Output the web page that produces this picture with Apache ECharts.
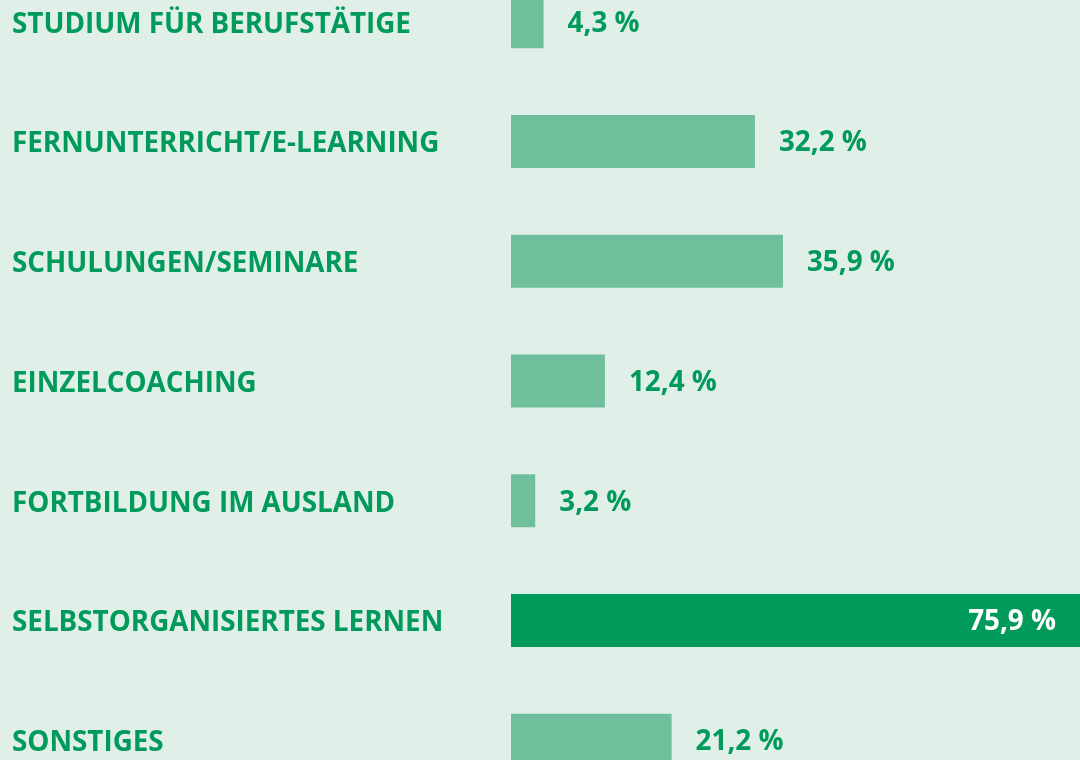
<!DOCTYPE html>
<html>
<head>
<meta charset="utf-8">
<script src="https://cdn.jsdelivr.net/npm/echarts@6/dist/echarts.min.js"></script>
<style>
html,body{margin:0;padding:0;background:#e0efe7;overflow:hidden;width:1080px;height:760px;}
#c{position:absolute;left:0;top:-38px;width:1086px;height:838px;}
</style>
</head>
<body>
<div id="c"></div>
<script>
const categories = [
  'STUDIUM FÜR BERUFSTÄTIGE',
  'FERNUNTERRICHT/E-LEARNING',
  'SCHULUNGEN/SEMINARE',
  'EINZELCOACHING',
  'FORTBILDUNG IM AUSLAND',
  'SELBSTORGANISIERTES LERNEN',
  'SONSTIGES'
];
const values = [4.3, 32.2, 35.9, 12.4, 3.2, 75.9, 21.2];
const highlightIndex = 5;

const GREEN = '#009a5b';
const LIGHT = '#6fbf9c';
const FONT = '"Open Sans", "Noto Sans", sans-serif';

const chart = echarts.init(document.getElementById('c'), null, {renderer: 'canvas'});
chart.setOption({
  backgroundColor: '#e0efe7',
  animation: false,
  grid: {left: 511, right: 0, top: 0, bottom: 0, containLabel: false},
  xAxis: {
    type: 'value', min: 0, max: 75.9,
    show: false
  },
  yAxis: {
    type: 'category', inverse: true, data: categories,
    axisLine: {show: false}, axisTick: {show: false}, splitLine: {show: false},
    axisLabel: {
      align: 'left', margin: 499,
      formatter: v => '{a|' + v + '}',
      rich: {
        a: {
          color: GREEN, fontFamily: FONT, fontWeight: 'bold', fontSize: 27.8,
          padding: [6, 0, 0, 0]
        }
      }
    }
  },
  series: [{
    type: 'bar',
    barWidth: 53,
    data: values.map((v, i) => ({
      value: v,
      itemStyle: {color: i === highlightIndex ? GREEN : LIGHT},
      label: i === highlightIndex
        ? {position: 'insideRight', distance: 30, color: '#ffffff'}
        : {position: 'right', distance: 24, color: GREEN}
    })),
    label: {
      show: true,
      fontFamily: FONT, fontWeight: 'bold', fontSize: 27.8,
      offset: [0, 2],
      formatter: p => p.value.toFixed(1).replace('.', ',') + ' %'
    }
  }]
});
</script>
</body>
</html>
